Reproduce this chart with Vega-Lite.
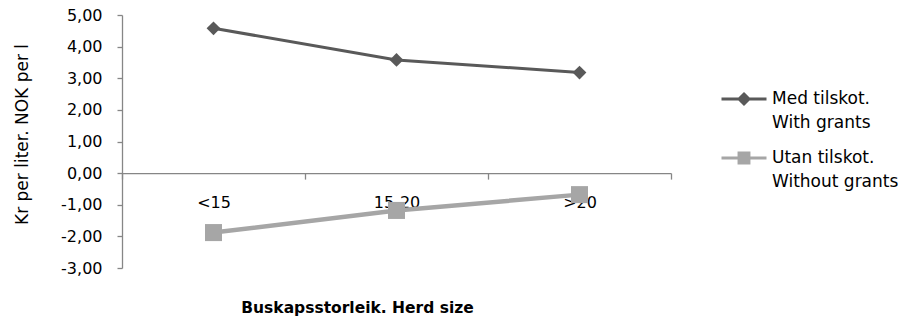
{
  "$schema": "https://vega.github.io/schema/vega-lite/v6.json",
  "width": 549,
  "height": 253,
  "autosize": {"type": "none"},
  "padding": {"left": 122, "top": 15, "right": 237, "bottom": 51},
  "background": "white",
  "config": {
    "view": {"stroke": null},
    "font": "DejaVu Sans",
    "axis": {
      "labelFont": "DejaVu Sans",
      "titleFont": "DejaVu Sans",
      "labelFontSize": 16,
      "labelColor": "#000000",
      "titleColor": "#000000",
      "domainColor": "#868686",
      "tickColor": "#868686",
      "domainWidth": 1.3,
      "tickWidth": 1.3,
      "grid": false
    }
  },
  "data": {
    "values": [
      {"size": "<15", "series": "Med tilskot. With grants", "value": 4.58},
      {"size": "15-20", "series": "Med tilskot. With grants", "value": 3.58},
      {"size": ">20", "series": "Med tilskot. With grants", "value": 3.18},
      {"size": "<15", "series": "Utan tilskot. Without grants", "value": -1.88},
      {"size": "15-20", "series": "Utan tilskot. Without grants", "value": -1.18},
      {"size": ">20", "series": "Utan tilskot. Without grants", "value": -0.68}
    ]
  },
  "encoding": {
    "x": {
      "field": "size",
      "type": "nominal",
      "sort": ["<15", "15-20", ">20"],
      "bandPosition": 0.5,
      "scale": {"type": "band", "paddingInner": 0, "paddingOuter": 0},
      "axis": {
        "title": "Buskapsstorleik. Herd size",
        "titleFontWeight": "bold",
        "titleFontSize": 15.5,
        "titleX": 235,
        "titleY": 134,
        "titleBaseline": "middle",
        "titleAlign": "center",
        "labelAngle": 0,
        "tickBand": "extent",
        "tickSize": 6,
        "labelPadding": 15.5,
        "offset": -94.9
      }
    },
    "y": {
      "field": "value",
      "type": "quantitative",
      "scale": {"domain": [-3, 5], "nice": false, "zero": false},
      "axis": {
        "title": "Kr per liter. NOK per l",
        "titleFontWeight": "normal",
        "titleFontSize": 17,
        "titleX": -100,
        "titleY": 119,
        "titleAlign": "center",
        "titleBaseline": "middle",
        "values": [-3, -2, -1, 0, 1, 2, 3, 4, 5],
        "labelExpr": "(datum.value < 0 ? '-' : '') + replace(format(abs(datum.value), '.2f'), '.', ',')",
        "tickSize": 5,
        "labelPadding": 15
      }
    }
  },
  "layer": [
    {
      "mark": {"type": "line"},
      "encoding": {
        "strokeWidth": {
          "condition": {"test": "datum.series == 'Med tilskot. With grants'", "value": 3},
          "value": 4.5
        },
        "color": {
          "field": "series",
          "type": "nominal",
          "scale": {"domain": ["Med tilskot. With grants", "Utan tilskot. Without grants"], "range": ["#595959", "#A6A6A6"]},
          "legend": {
            "orient": "none",
            "legendX": 598,
            "legendY": 60,
            "title": null,
            "padding": 0,
            "labelFont": "DejaVu Sans",
            "labelFontSize": 17,
            "labelColor": "#000000",
            "labelBaseline": "middle",
            "labelLimit": 300,
            "labelOffset": 4,
            "symbolSize": 2025,
            "symbolStrokeWidth": 3,
            "rowPadding": 3,
            "labelExpr": "datum.label == 'Med tilskot. With grants' ? ['Med tilskot.', 'With grants'] : ['Utan tilskot.', 'Without grants']",
            "encode": {
              "labels": {
                "update": {"lineHeight": {"value": 24}}
              },
              "symbols": {
                "update": {
                  "shape": {"signal": "datum.value == 'Med tilskot. With grants' ? 'M-1,0L1,0M0,-0.22L0.22,0L0,0.22L-0.22,0Z' : 'M-1,0L1,0M-0.22,-0.22L0.22,-0.22L0.22,0.22L-0.22,0.22Z'"},
                  "fill": {"signal": "datum.value == 'Med tilskot. With grants' ? '#595959' : '#A6A6A6'"},
                  "size": {"value": 2025},
                  "strokeWidth": {"value": 3},
                  "opacity": {"value": 1}
                }
              }
            }
          }
        }
      }
    },
    {
      "mark": {"type": "point", "filled": true, "opacity": 1, "strokeWidth": 0},
      "encoding": {
        "fill": {
          "condition": {"test": "datum.series == 'Med tilskot. With grants'", "value": "#595959"},
          "value": "#A6A6A6"
        },
        "shape": {
          "condition": {"test": "datum.series == 'Med tilskot. With grants'", "value": "diamond"},
          "value": "square"
        },
        "size": {
          "condition": {"test": "datum.series == 'Med tilskot. With grants'", "value": 190},
          "value": 290
        }
      }
    }
  ]
}
